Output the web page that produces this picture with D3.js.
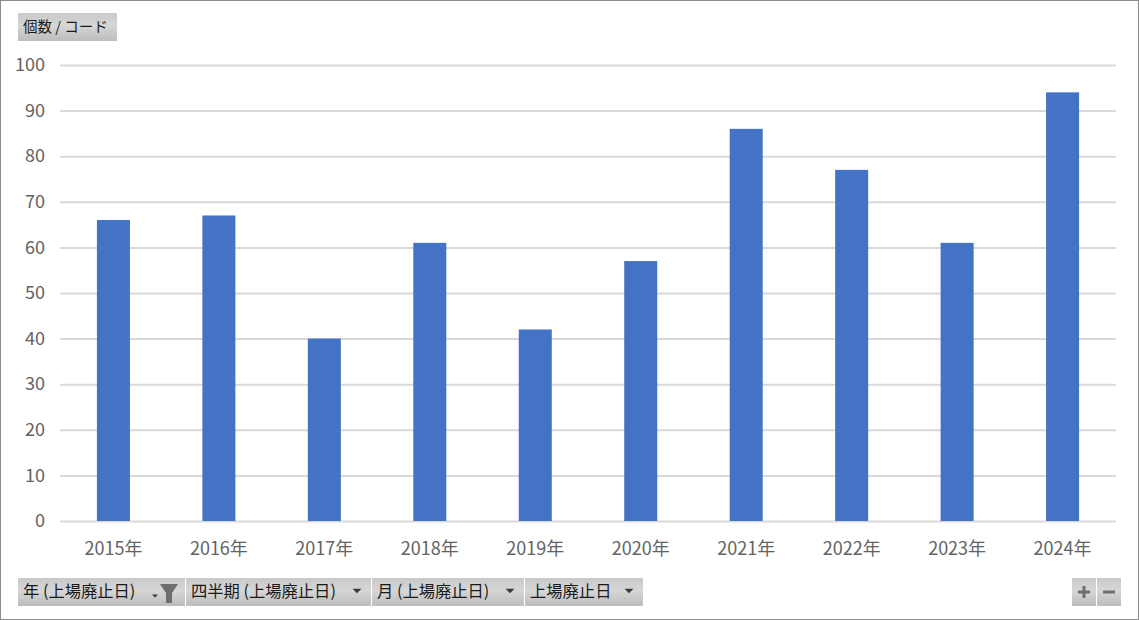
<!DOCTYPE html>
<html>
<head>
<meta charset="utf-8">
<script src="https://cdn.jsdelivr.net/npm/d3@7"></script>
<style>
    html, body { margin: 0; padding: 0; background: #fff; overflow: hidden; }
    text { font-family: "Noto Sans CJK JP", "Noto Sans", sans-serif; }
    .tick text { fill: #636363; font-size: 18px; font-weight: 400; }
</style>
</head>
<body>
<div id="vis"></div>
<script>
const years = ['2015年', '2016年', '2017年', '2018年', '2019年', '2020年', '2021年', '2022年', '2023年', '2024年'];
const counts = [66, 67, 40, 61, 42, 57, 86, 77, 61, 94];
const yTicks = [0, 10, 20, 30, 40, 50, 60, 70, 80, 90, 100];
const valueField = '個数 / コード';
const fieldLabels = ['年 (上場廃止日)', '四半期 (上場廃止日)', '月 (上場廃止日)', '上場廃止日'];

const width = 1139, height = 620;
const margin = {top: 65, right: 23, bottom: 99, left: 60};

let svg = d3.select('#vis')
    .append('svg')
    .attr('width', width)
    .attr('height', height)
    .style('display', 'block');

let defs = svg.append('defs');
let grad = defs.append('linearGradient')
    .attr('id', 'btn')
    .attr('x1', 0).attr('x2', 0).attr('y1', 0).attr('y2', 1);
grad.append('stop').attr('offset', '0%').attr('stop-color', '#c9c9c9');
grad.append('stop').attr('offset', '45%').attr('stop-color', '#d6d6d6');
grad.append('stop').attr('offset', '100%').attr('stop-color', '#bcbcbc');

// outer border
svg.append('rect')
    .attr('x', 0.5).attr('y', 0.5)
    .attr('width', width - 1).attr('height', height - 1)
    .attr('fill', '#fff')
    .attr('stroke', '#8c8c8c');

// Scaling
let xScale = d3.scaleBand()
    .domain(years)
    .range([margin.left, width - margin.right])
    .paddingInner(0.687)
    .paddingOuter(0.35);

let yScale = d3.scaleLinear()
    .domain([0, 100])
    .range([height - margin.bottom, margin.top]);

// Axis
let yAxis = d3.axisLeft(yScale)
    .tickValues(yTicks)
    .tickSize(-(width - margin.left - margin.right))
    .tickPadding(15);

let yGuide = svg.append('g')
    .attr('transform', 'translate(' + margin.left + ',0)')
    .call(yAxis);
yGuide.select('.domain').remove();
yGuide.selectAll('.tick line')
    .attr('stroke', '#d9d9d9')
    .attr('stroke-width', 2);

let xAxis = d3.axisBottom(xScale)
    .tickSize(0)
    .tickPadding(21);

let xGuide = svg.append('g')
    .attr('transform', 'translate(0,' + (height - margin.bottom) + ')')
    .call(xAxis);
xGuide.select('.domain').remove();

// bars
svg.selectAll('rect.bar')
    .data(counts)
    .enter()
    .append('rect')
    .attr('class', 'bar')
    .attr('x', (d, i) => xScale(years[i]))
    .attr('y', d => yScale(d))
    .attr('width', xScale.bandwidth())
    .attr('height', d => yScale(0) - yScale(d))
    .attr('fill', '#4472c4');

// grey field buttons
function button(x, y, w, h, label, fontSize) {
    let g = svg.append('g').attr('transform', 'translate(' + x + ',' + y + ')');
    g.append('rect')
        .attr('width', w).attr('height', h)
        .attr('fill', 'url(#btn)');
    if (label) {
        g.append('text')
            .attr('x', 5)
            .attr('y', h / 2 + 5)
            .attr('font-size', fontSize)
            .attr('fill', '#1a1a1a')
            .text(label);
    }
    return g;
}

function arrow(g, cx, cy, size) {
    g.append('path')
        .attr('d', d3.line()([[cx - size, cy - size / 2], [cx + size, cy - size / 2], [cx, cy + size / 2]]) + 'Z')
        .attr('fill', '#3a3a3a');
}

button(18, 13, 99, 28, valueField, 14.5);

const btnY = 578, btnH = 28;
const btnX = [18, 186, 372, 525];
const btnW = [167, 185, 152, 118];
fieldLabels.forEach((label, i) => {
    let g = button(btnX[i], btnY, btnW[i], btnH, label, 16.3);
    if (i === 0) {
        // small arrow plus filter funnel
        arrow(g, 137, 18, 3);
        g.append('path')
            .attr('d', 'M142,6 H160 L154,15 V25 H148 V15 Z')
            .attr('fill', '#6e6e6e');
    } else {
        arrow(g, btnW[i] - 14, 13, 4.5);
    }
});

// zoom buttons
let plus = button(1072, btnY, 24, btnH);
plus.append('path')
    .attr('d', 'M6,14 H18 M12,8 V20')
    .attr('stroke', '#6e6e6e')
    .attr('stroke-width', 3);
let minus = button(1097, btnY, 24, btnH);
minus.append('path')
    .attr('d', 'M6,14 H18')
    .attr('stroke', '#6e6e6e')
    .attr('stroke-width', 3);
</script>
</body>
</html>
